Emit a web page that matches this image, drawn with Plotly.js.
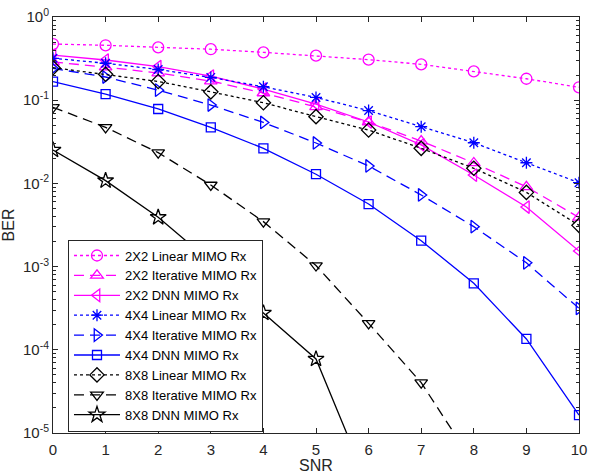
<!DOCTYPE html>
<html><head><meta charset="utf-8">
<script src="https://cdn.plot.ly/plotly-3.0.1.min.js"></script>
<style>html,body{margin:0;padding:0;background:#fff}#chart{width:591px;height:476px}</style>
</head><body><div id="chart"></div>
<script>
const snr = [0,1,2,3,4,5,6,7,8,9,10];
const ber2x2Linear    = [0.473, 0.457, 0.432, 0.41, 0.376, 0.343, 0.307, 0.27, 0.222, 0.181, 0.143];
const ber2x2Iterative = [0.288, 0.25, 0.212, 0.17, 0.122, 0.083, 0.0547, 0.0323, 0.0176, 0.0091, 0.0039];
const ber2x2DNN       = [0.349, 0.304, 0.254, 0.195, 0.136, 0.090, 0.0547, 0.029, 0.0126, 0.0052, 0.00154];
const ber4x4Linear    = [0.319, 0.278, 0.234, 0.188, 0.145, 0.108, 0.0751, 0.048, 0.0308, 0.0177, 0.0102];
const ber4x4Iterative = [0.241, 0.19, 0.132, 0.0875, 0.054, 0.0306, 0.0162, 0.00726, 0.00302, 0.00111, 0.000315];
const ber4x4DNN       = [0.167, 0.118, 0.0784, 0.0472, 0.0264, 0.0129, 0.00565, 0.00205, 0.00063, 0.000135, 0.0000164];
const ber8x8Linear    = [0.246, 0.205, 0.168, 0.126, 0.0933, 0.0634, 0.0438, 0.0264, 0.0152, 0.0078, 0.00313];
const ber8x8Iterative = [0.0822, 0.0472, 0.0234, 0.00957, 0.00347, 0.00103, 0.000208, 0.0000403, 0.0000043];
const ber8x8DNN       = [0.0252, 0.0108, 0.00391, 0.00114, 0.000277, 0.0000775, 0.0000023];
const seriesNames = ['2X2 Linear MIMO Rx','2X2 Iterative MIMO Rx','2X2 DNN MIMO Rx',
  '4X4 Linear MIMO Rx','4X4 Iterative MIMO Rx','4X4 DNN MIMO Rx',
  '8X8 Linear MIMO Rx','8X8 Iterative MIMO Rx','8X8 DNN MIMO Rx'];
const yTickVals = [1, 0.1, 0.01, 0.001, 0.0001, 0.00001];
const yTickText = ['10<sup>0</sup>','10<sup>-1</sup>','10<sup>-2</sup>','10<sup>-3</sup>','10<sup>-4</sup>','10<sup>-5</sup>'];
const xTitle = 'SNR';
const yTitle = 'BER';

const dataSets = [ber2x2Linear, ber2x2Iterative, ber2x2DNN, ber4x4Linear, ber4x4Iterative, ber4x4DNN, ber8x8Linear, ber8x8Iterative, ber8x8DNN];
const colors = ['#FF00FF','#FF00FF','#FF00FF','#0000FF','#0000FF','#0000FF','#000000','#000000','#000000'];
const dashes = ['dot','10px,6px','solid','dot','10px,6px','solid','dot','10px,6px','solid'];
const symbols = ['circle-open','triangle-up-open','triangle-left-open','asterisk-open','triangle-right-open','square-open','diamond-open','triangle-down-open','star-open'];
const sizes = [11,11,11,10,11,9,11,11,12];

const traces = dataSets.map((d,i)=>({
  x: snr.slice(0, d.length), y: d, name: seriesNames[i], type:'scatter', mode:'lines+markers',
  line:{color:colors[i], width:1.3, dash:dashes[i]},
  marker:{symbol:symbols[i], size:sizes[i], color:colors[i], line:{color:colors[i], width:1.3}},
  cliponaxis:true
}));

const axisCommon = {showline:true, linecolor:'#262626', linewidth:1, mirror:'ticks', ticks:'inside', ticklen:5, tickcolor:'#262626', showgrid:false, zeroline:false, tickfont:{family:'Liberation Sans, Arial, sans-serif', size:15, color:'#262626'}};

const layout = {
  width:591, height:476, paper_bgcolor:'#fff', plot_bgcolor:'#fff',
  margin:{l:53, r:12, t:17, b:43},
  font:{family:'Liberation Sans, Arial, sans-serif', color:'#262626'},
  showlegend:true,
  xaxis: Object.assign({}, axisCommon, {range:[0,10], dtick:1, tick0:0, ticklabelstandoff:3}),
  yaxis: Object.assign({}, axisCommon, {type:'log', range:[-5,0], tickmode:'array', tickvals:yTickVals, ticktext:yTickText,
    minor:{ticks:'inside', ticklen:3, tickcolor:'#262626', dtick:'D1', showgrid:false},
    title:{text:yTitle, font:{size:16, color:'#262626'}, standoff:4}}),
  annotations:[{text:xTitle, xref:'paper', yref:'paper', x:0.5, y:-0.1034, xanchor:'center', yanchor:'bottom',
    showarrow:false, font:{size:16, color:'#262626', family:'Liberation Sans, Arial, sans-serif'}}],
  legend:{x:0.0285, y:0.465, xanchor:'left', yanchor:'top', bgcolor:'#fff', bordercolor:'#262626', borderwidth:1,
    font:{size:13, color:'#000', family:'Liberation Sans, Arial, sans-serif'}, itemwidth:46, tracegroupgap:0}
};
Plotly.newPlot('chart', traces, layout, {displayModeBar:false, staticPlot:true});
</script></body></html>
